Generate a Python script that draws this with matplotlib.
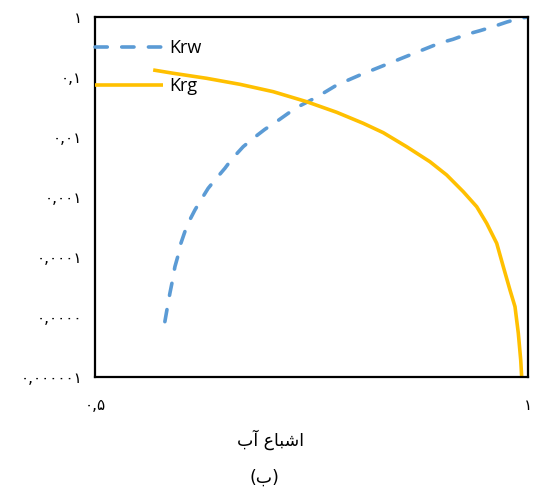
import numpy as np
import matplotlib
matplotlib.use("Agg")
import matplotlib.pyplot as plt

# Relative permeability curves vs water saturation (log10 of kr)
sw_krw = [0.5808, 0.5835, 0.5866, 0.5893, 0.5924, 0.5962, 0.5993, 0.6039, 0.6085,
          0.6155, 0.6212, 0.6308, 0.6386, 0.6501, 0.6579, 0.6712, 0.6828, 0.6963,
          0.7079, 0.7232, 0.7348, 0.7564, 0.7794, 0.8060, 0.8349, 0.8637, 0.8984,
          0.9134, 0.9296, 0.9446, 0.9596, 0.9758, 0.9908, 1.0]
log_krw = [-5.078, -4.855, -4.605, -4.412, -4.162, -3.967, -3.772, -3.578, -3.412,
           -3.217, -3.078, -2.855, -2.717, -2.522, -2.372, -2.162, -2.022, -1.872,
           -1.762, -1.605, -1.495, -1.333, -1.133, -0.967, -0.800, -0.633, -0.433,
           -0.372, -0.288, -0.228, -0.162, -0.083, -0.022, 0.0]

sw_krg = [0.5673, 0.5904, 0.6290, 0.6674, 0.7059, 0.7445, 0.7791, 0.8098, 0.8329,
          0.8599, 0.8868, 0.9061, 0.9253, 0.9408, 0.9523, 0.9639, 0.9715, 0.9792,
          0.9850, 0.9888, 0.9916, 0.9927]
log_krg = [-0.883, -0.938, -1.022, -1.122, -1.245, -1.412, -1.588, -1.772, -1.928,
           -2.162, -2.412, -2.633, -2.912, -3.162, -3.438, -3.772, -4.162, -4.550,
           -4.828, -5.267, -5.717, -5.995]

krw = 10.0 ** np.array(log_krw)
krg = 10.0 ** np.array(log_krg)

y_ticks = [1, 0.1, 0.01, 0.001, 0.0001, 0.00001, 0.000001]
y_labels = ["۱", "۰,۱", "۰,۰۱", "۰,۰۰۱", "۰,۰۰۰۱", "۰,۰۰۰۰", "۰,۰۰۰۰۰۱"]
x_ticks = [0.5, 1.0]
x_labels = ["۰,۵", "۱"]

# Arabic-script text pre-shaped (presentation forms, visual order)
xlabel_text = "\uFE8F\uFE81 \uFEC9\uFE8E\uFE92\uFEB7\uFE8D"
caption_text = "(\uFE8F)"

plt.rcParams['font.family'] = ['DejaVu Sans']

fig = plt.figure(figsize=(5.33, 4.91), dpi=100)
ax = fig.add_axes([0.178, 0.2322, 0.8126, 0.7332])

ax.plot(sw_krw, krw, color='#5B9BD5', lw=2.6, dashes=(3.4, 4.0),
        dash_capstyle='round', label='Krw')
ax.plot(sw_krg, krg, color='#FFC000', lw=2.6, solid_capstyle='butt', label='Krg')

ax.set_yscale('log')
ax.set_xlim(0.5, 1.0)
ax.set_ylim(1e-6, 1)
ax.set_yticks(y_ticks)
ax.set_yticklabels(y_labels, fontsize=11)
ax.yaxis.set_minor_locator(matplotlib.ticker.NullLocator())
ax.set_xticks(x_ticks)
ax.set_xticklabels(x_labels, fontsize=11)
ax.tick_params(length=0, pad=9)
ax.tick_params(axis='x', pad=15)

for s in ax.spines.values():
    s.set_linewidth(1.6)
    s.set_color('black')

leg = ax.legend(loc='center left', bbox_to_anchor=(0.0, 0.861), frameon=False,
                borderaxespad=0, borderpad=0, handlelength=3.75,
                handletextpad=0.35, labelspacing=1.1,
                prop={'family': 'Open Sans', 'size': 13})

fig.text(0.508, 0.104, xlabel_text, ha='center', va='center', fontsize=12.5)
fig.text(0.497, 0.027, caption_text, ha='center', va='center', fontsize=12.5)

fig.savefig("out.png", dpi=100)
